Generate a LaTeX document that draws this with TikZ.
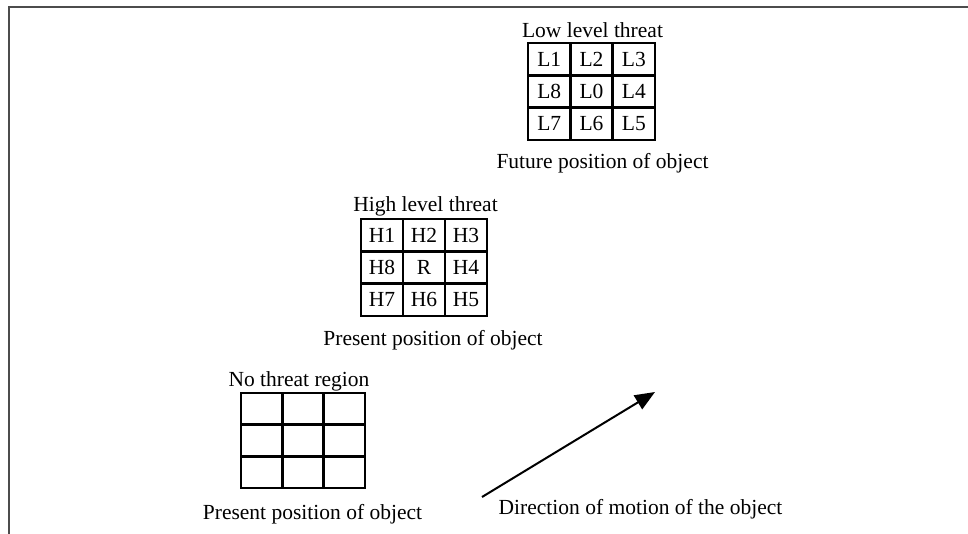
\documentclass[tikz,border=0pt]{standalone}
\usepackage{fontspec}
\setmainfont{Liberation Serif}
\usetikzlibrary{arrows.meta}
\begin{document}
\begin{tikzpicture}[x=1pt,y=-1pt,
  lbl/.style={font=\fontsize{21.5}{24}\selectfont, inner sep=0pt, anchor=base},
  cellL/.style={draw, line width=2.4pt, minimum width=42.3pt, minimum height=32.3pt, inner sep=0pt, font=\fontsize{21.5}{24}\selectfont},
  cellH/.style={draw, line width=2.4pt, minimum width=42pt, minimum height=32.3pt, inner sep=0pt, font=\fontsize{21.5}{24}\selectfont},
  cellN/.style={draw, line width=2.4pt, minimum width=41.3pt, minimum height=31.7pt, inner sep=0pt},
  frame/.style={draw=black!70, line width=2pt},
  motion/.style={line width=2pt, -{Triangle[length=20pt,width=16pt]}}]
\useasboundingbox (0,0) rectangle (968,534);
\draw[frame] (9,534) -- (9,7) -- (968,7);
% Low level threat grid
\node[lbl] (tL) at (592.5,37.5) {Low level threat};
\node[cellL] (L1) at (549.2,59.2) {L1};
\node[cellL] (L2) at (591.5,59.2) {L2};
\node[cellL] (L3) at (633.8,59.2) {L3};
\node[cellL] (L8) at (549.2,91.5) {L8};
\node[cellL] (L0) at (591.5,91.5) {L0};
\node[cellL] (L4) at (633.8,91.5) {L4};
\node[cellL] (L7) at (549.2,123.8) {L7};
\node[cellL] (L6) at (591.5,123.8) {L6};
\node[cellL] (L5) at (633.8,123.8) {L5};
\node[lbl] (fL) at (602.5,169) {Future position of object};
% High level threat grid
\node[lbl] (tH) at (425.5,212) {High level threat};
\node[cellH] (H1) at (382,235.2) {H1};
\node[cellH] (H2) at (424,235.2) {H2};
\node[cellH] (H3) at (466,235.2) {H3};
\node[cellH] (H8) at (382,267.5) {H8};
\node[cellH] (R)  at (424,267.5) {R};
\node[cellH] (H4) at (466,267.5) {H4};
\node[cellH] (H7) at (382,299.8) {H7};
\node[cellH] (H6) at (424,299.8) {H6};
\node[cellH] (H5) at (466,299.8) {H5};
\node[lbl] (pH) at (433,345) {Present position of object};
% No threat grid
\node[lbl] (tN) at (299,386.5) {No threat region};
\node[cellN] (N1) at (261.7,408.8) {};
\node[cellN] (N2) at (303,408.8) {};
\node[cellN] (N3) at (344.3,408.8) {};
\node[cellN] (N4) at (261.7,440.5) {};
\node[cellN] (N5) at (303,440.5) {};
\node[cellN] (N6) at (344.3,440.5) {};
\node[cellN] (N7) at (261.7,472.2) {};
\node[cellN] (N8) at (303,472.2) {};
\node[cellN] (N9) at (344.3,472.2) {};
\node[lbl] (pN) at (312.5,519) {Present position of object};
% motion arrow
\coordinate (a1) at (482,497);
\coordinate (a2) at (655,392);
\draw[motion] (a1) -- (a2);
\node[lbl] (dir) at (640.5,514) {Direction of motion of the object};
\end{tikzpicture}
\end{document}
